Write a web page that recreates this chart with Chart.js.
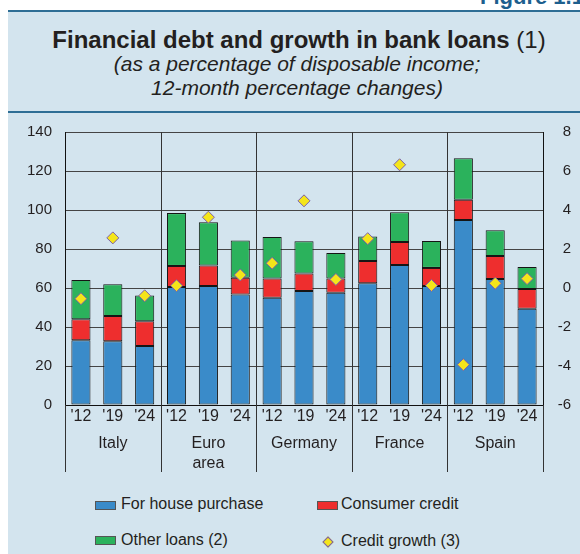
<!DOCTYPE html>
<html><head><meta charset="utf-8">
<script src="https://cdn.jsdelivr.net/npm/chart.js@4/dist/chart.umd.min.js"></script>
<style>
html,body{margin:0;padding:0;background:#fff;}
body{width:580px;height:554px;position:relative;overflow:hidden;font-family:"Liberation Sans",Arial,Helvetica,sans-serif;color:#231f20;}
#panel{position:absolute;left:8px;top:11px;width:572px;height:543px;background:#d3e4ee;}
.rule{position:absolute;left:8px;width:572px;height:2px;background:#2e6e95;}
#fig{position:absolute;left:480px;top:-14px;font-size:22px;line-height:22px;font-weight:bold;color:#1d5f8e;white-space:nowrap;}
#title{position:absolute;left:0;width:598px;top:26px;text-align:center;font-size:24px;line-height:28px;font-weight:bold;white-space:nowrap;}
#title span{font-weight:normal;}
#sub{position:absolute;left:0;width:594px;top:52px;text-align:center;font-size:21px;line-height:24px;font-style:italic;white-space:nowrap;}
#chart{position:absolute;left:0;top:120px;}
.lg{position:absolute;font-size:16px;line-height:18px;white-space:nowrap;}
.sw{position:absolute;width:19px;height:7px;border:1px solid #555;}
.dm{position:absolute;width:6px;height:6px;background:#f4e51a;border:1px solid #7a5ea8;transform:rotate(45deg);}
</style></head>
<body>
<div id="panel"></div>
<div class="rule" style="top:10px"></div>
<div class="rule" style="top:111px"></div>
<div id="fig">Figure 1.1</div>
<div id="title">Financial debt and growth in bank loans <span>(1)</span></div>
<div id="sub">(as a percentage of disposable income;<br>12-month percentage changes)</div>
<canvas id="chart" width="580" height="360"></canvas>

<div class="sw" style="left:95px;top:501px;background:#3a8bc9"></div>
<div class="lg" style="left:121px;top:495px">For house purchase</div>
<div class="sw" style="left:317px;top:501px;background:#ee2e2e"></div>
<div class="lg" style="left:341px;top:495px">Consumer credit</div>
<div class="sw" style="left:95px;top:536px;background:#2bb25c"></div>
<div class="lg" style="left:121px;top:531px">Other loans (2)</div>
<div class="dm" style="left:324px;top:538px"></div>
<div class="lg" style="left:341px;top:532px">Credit growth (3)</div>

<script>
const categories = ["'12","'19","'24","'12","'19","'24","'12","'19","'24","'12","'19","'24","'12","'19","'24"];
const groups = ["Italy", ["Euro", "area"], "Germany", "France", "Spain"];
const housePurchase  = [33.2, 32.7, 30.3, 60.5, 61.0, 56.7, 55.0, 58.4, 57.6, 62.4, 71.8, 61.0, 94.9, 64.6, 49.3];
const consumerCredit = [10.8, 12.9, 12.7, 10.8, 10.6, 8.6, 9.9, 9.1, 7.3, 11.5, 11.8, 9.3, 10.3, 11.8, 10.2];
const otherLoans     = [20.1, 16.3, 13.2, 27.1, 22.1, 19.0, 21.3, 16.5, 13.1, 12.5, 15.3, 13.8, 21.4, 13.2, 11.3];
const creditGrowth   = [-0.55, 2.57, -0.4, 0.12, 3.63, 0.67, 1.27, 4.47, 0.44, 2.53, 6.32, 0.13, -3.93, 0.24, 0.48];

const fontY = {family: '"Liberation Sans", Arial, Helvetica, sans-serif', size: 15};
const fontX = {family: '"Liberation Sans", Arial, Helvetica, sans-serif', size: 16};
const txt = '#231f20';

const separators = {
  id: 'separators',
  afterDraw(chart) {
    const x = chart.scales.x, a = chart.chartArea, c = chart.ctx;
    const n = categories.length;
    c.save();
    c.lineWidth = 1;
    for (let b = 0; b <= n; b += 3) {
      let px;
      if (b === 0) px = a.left;
      else if (b === n) px = a.right;
      else px = (x.getPixelForValue(b - 1) + x.getPixelForValue(b)) / 2;
      px = Math.round(px) + 0.5;
      const top = (b === 0 || b === n) ? a.bottom : a.top;
      c.strokeStyle = '#333';
      c.beginPath();
      c.moveTo(px, top);
      c.lineTo(px, a.bottom + 67);
      c.stroke();
    }
    c.restore();
  }
};

const barCommon = {borderColor: '#151515', borderWidth: 1, borderSkipped: false, yAxisID: 'y', xAxisID: 'x', stack: 's', order: 1};

new Chart(document.getElementById('chart'), {
  type: 'bar',
  data: {
    labels: categories,
    datasets: [
      {type: 'line', label: 'Credit growth (3)', data: creditGrowth, yAxisID: 'y2', xAxisID: 'x', showLine: false,
       pointStyle: 'rectRot', pointRadius: 6, pointBackgroundColor: '#f4e51a', pointBorderColor: '#7a5ea8', pointBorderWidth: 1, order: 0},
      Object.assign({label: 'For house purchase', data: housePurchase, backgroundColor: '#3a8bc9'}, barCommon),
      Object.assign({label: 'Consumer credit', data: consumerCredit, backgroundColor: '#ee2e2e'}, barCommon),
      Object.assign({label: 'Other loans (2)', data: otherLoans, backgroundColor: '#2bb25c'}, barCommon)
    ]
  },
  options: {
    responsive: false, animation: false, devicePixelRatio: 1,
    layout: {padding: {top: 12, left: 0, right: 9, bottom: 0}},
    plugins: {legend: {display: false}, tooltip: {enabled: false}},
    datasets: {bar: {barPercentage: 0.6, categoryPercentage: 1}},
    scales: {
      x: {stacked: true, grid: {display: false, drawTicks: false}, border: {display: true, color: '#111'},
          ticks: {font: fontX, color: txt, padding: 2, maxRotation: 0, autoSkip: false},
          afterFit: s => { s.height = 20; }},
      x2: {type: 'category', labels: groups, position: 'bottom', offset: true,
           grid: {display: false, drawTicks: false}, border: {display: false},
           ticks: {font: Object.assign({lineHeight: 1.25}, fontX), color: txt, padding: 9, maxRotation: 0, autoSkip: false},
           afterFit: s => { s.height = 55; }},
      y: {stacked: true, min: 0, max: 140, position: 'left',
          ticks: {stepSize: 20, padding: 13, font: fontY, color: txt},
          grid: {color: '#444', drawTicks: false}, border: {color: '#111'},
          afterFit: s => { s.width = 65; s.paddingTop = 0; s.paddingBottom = 0; }},
      y2: {position: 'right', min: -6, max: 8,
           ticks: {stepSize: 2, padding: 15, crossAlign: 'far', font: fontY, color: txt},
           grid: {drawOnChartArea: false, drawTicks: false}, border: {color: '#111'},
           afterFit: s => { s.width = 28; s.paddingTop = 0; s.paddingBottom = 0; }}
    }
  },
  plugins: [separators]
});
</script>
</body></html>
